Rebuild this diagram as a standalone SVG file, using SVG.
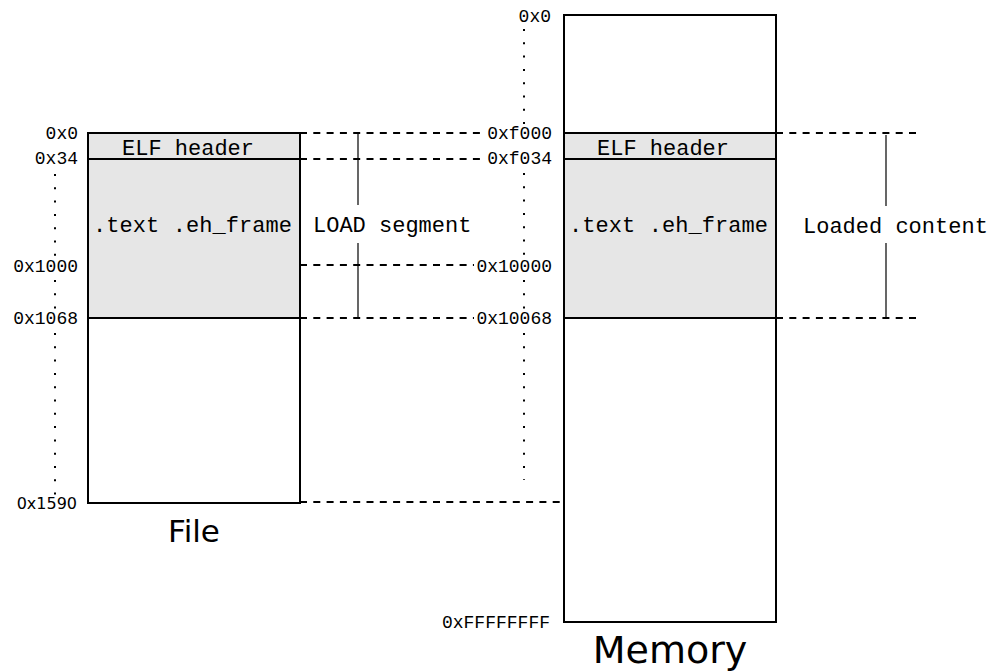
<svg xmlns="http://www.w3.org/2000/svg" width="993" height="672" viewBox="0 0 993 672">
<style>
.box{fill:none;stroke:#000;stroke-width:2}
.shade{fill:#e6e6e6;stroke:none}
.sep{stroke:#000;stroke-width:2}
.dash{stroke:#000;stroke-width:2;stroke-dasharray:7 6.3;fill:none}
.dot{stroke:#000;stroke-width:2;stroke-dasharray:2 11.3;fill:none}
.brk{stroke:#000;stroke-width:1.2;fill:none}
.lbl{font-family:"Liberation Mono","Courier New",monospace;font-size:18px;fill:#000;text-anchor:end}
.big{font-family:"Liberation Mono","Courier New",monospace;font-size:22px;fill:#000}
.title{font-family:"DejaVu Sans",sans-serif;fill:#000;text-anchor:middle}
</style>
<rect width="993" height="672" fill="#fff"/>
<g id="file">
<rect class="shade" x="88" y="133" width="212" height="185"/>
<rect class="box" x="88" y="133" width="212" height="370"/>
<line class="sep" x1="88" y1="159" x2="300" y2="159"/>
<line class="sep" x1="88" y1="318" x2="300" y2="318"/>
<text class="big" x="122" y="155">ELF header</text>
<text class="big" x="93" y="232" textLength="199">.text .eh_frame</text>
<text class="title" x="194" y="542" style="font-size:31px">File</text>
</g>
<g id="memory">
<rect class="shade" x="564" y="133" width="212" height="185"/>
<rect class="box" x="564" y="15" width="212" height="607"/>
<line class="sep" x1="564" y1="133" x2="776" y2="133"/>
<line class="sep" x1="564" y1="159" x2="776" y2="159"/>
<line class="sep" x1="564" y1="318" x2="776" y2="318"/>
<text class="big" x="597" y="155">ELF header</text>
<text class="big" x="569" y="232" textLength="199">.text .eh_frame</text>
<text class="title" x="670" y="663" style="font-size:38px">Memory</text>
</g>
<g id="file-offsets">
<text class="lbl" x="78" y="139">0x0</text>
<text class="lbl" x="78" y="164">0x34</text>
<text class="lbl" x="78" y="272">0x1000</text>
<text class="lbl" x="78" y="324">0x1068</text>
<text x="77" y="509" style="font-family:'DejaVu Sans',sans-serif;font-size:16px;text-anchor:end">0x1590</text>
</g>
<g id="memory-addresses">
<text class="lbl" x="551" y="22">0x0</text>
<text class="lbl" x="552" y="139">0xf000</text>
<text class="lbl" x="552" y="164">0xf034</text>
<text class="lbl" x="552" y="272">0x10000</text>
<text class="lbl" x="552" y="324">0x10068</text>
<text class="lbl" x="550" y="628">0xFFFFFFFF</text>
</g>
<g id="load-segment">
<text class="big" x="313" y="232">LOAD segment</text>
</g>
<g id="loaded-content">
<text class="big" x="803" y="233">Loaded content</text>
</g>
<g id="connectors">
<line class="dot" x1="55" y1="174" x2="55" y2="256"/>
<line class="dot" x1="55" y1="280" x2="55" y2="310"/>
<line class="dot" x1="55" y1="333" x2="55" y2="496"/>
<line class="dot" x1="524" y1="29" x2="524" y2="125"/>
<line class="dot" x1="524" y1="173" x2="524" y2="256"/>
<line class="dot" x1="524" y1="280" x2="524" y2="310"/>
<line class="dot" x1="524" y1="333" x2="524" y2="480"/>
<line class="dash" x1="300" y1="133" x2="481" y2="133"/>
<line class="dash" x1="300" y1="159" x2="481" y2="159"/>
<line class="dash" x1="300" y1="265" x2="474" y2="265"/>
<line class="dash" x1="300" y1="318" x2="474" y2="318"/>
<line class="dash" x1="300" y1="502" x2="564" y2="502"/>
<line class="dash" x1="776" y1="133" x2="920" y2="133"/>
<line class="dash" x1="776" y1="318" x2="918" y2="318"/>
<line class="brk" x1="358" y1="133" x2="358" y2="205"/>
<line class="brk" x1="358" y1="243" x2="358" y2="318"/>
<line class="brk" x1="886" y1="135" x2="886" y2="206"/>
<line class="brk" x1="886" y1="243" x2="886" y2="319"/>
</g>
</svg>
